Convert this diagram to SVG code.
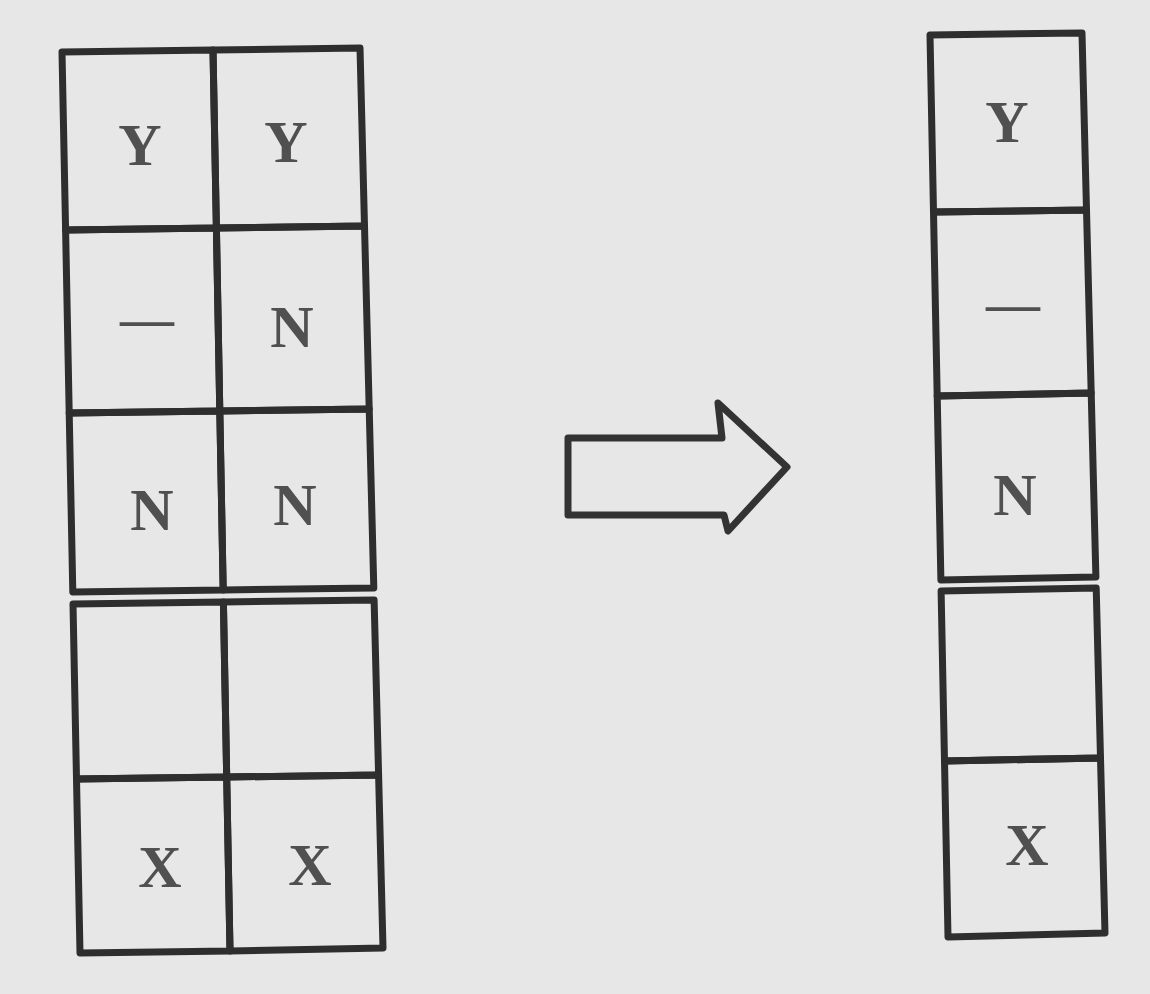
<svg xmlns="http://www.w3.org/2000/svg" width="1150" height="994" viewBox="0 0 1150 994">
<style>
.cell{fill:none;stroke:#2e2e2e;stroke-width:7;stroke-linejoin:round}
.lbl{font-family:"Liberation Serif","Times New Roman",serif;font-size:60px;font-weight:bold;fill:#505050;text-anchor:middle}
.dash{font-family:"Liberation Serif","Times New Roman",serif;font-size:54px;font-weight:bold;fill:#505050;text-anchor:middle}
.arrow{fill:none;stroke:#333;stroke-width:7;stroke-linejoin:round}
</style>
<rect x="0" y="0" width="1150" height="994" fill="#e7e7e7"/>
<g id="left-grid">
<g id="L-r1c1"><polygon class="cell" points="62,52 213,50 216.4,228 65.6,230"/><text class="lbl" x="140" y="165">Y</text></g>
<g id="L-r1c2"><polygon class="cell" points="213,50 360,48 364.5,226 216.4,228"/><text class="lbl" x="286" y="162">Y</text></g>
<g id="L-r2c1"><polygon class="cell" points="65.6,230 216.4,228 219.8,411 69.2,413"/><text class="dash" x="147" y="337">—</text></g>
<g id="L-r2c2"><polygon class="cell" points="216.4,228 364.5,226 369.2,409 219.8,411"/><text class="lbl" x="292" y="347">N</text></g>
<g id="L-r3c1"><polygon class="cell" points="69.2,413 219.8,411 223.2,590 72.8,592"/><text class="lbl" x="152" y="530">N</text></g>
<g id="L-r3c2"><polygon class="cell" points="219.8,411 369.2,409 373.8,588 223.2,590"/><text class="lbl" x="295" y="525">N</text></g>
<g id="L-r4c1"><polygon class="cell" points="73,604 223.4,602 226.7,777 76.5,779"/></g>
<g id="L-r4c2"><polygon class="cell" points="223.4,602 374.1,600 378.6,775 226.7,777"/></g>
<g id="L-r5c1"><polygon class="cell" points="76.5,779 226.7,777 230,951 80,953"/><text class="lbl" x="160" y="887">X</text></g>
<g id="L-r5c2"><polygon class="cell" points="226.7,777 378.6,775 383,948 230,951"/><text class="lbl" x="310" y="885">X</text></g>
</g>
<g id="right-column">
<g id="R-r1"><polygon class="cell" points="930,35 1082,33 1086.5,210 933.5,212"/><text class="lbl" x="1007" y="142">Y</text></g>
<g id="R-r2"><polygon class="cell" points="933.5,212 1086.5,210 1091.2,393 937.2,396"/><text class="dash" x="1013" y="322">—</text></g>
<g id="R-r3"><polygon class="cell" points="937.2,396 1091.2,393 1095.9,577 940.9,580"/><text class="lbl" x="1015" y="515">N</text></g>
<g id="R-r4"><polygon class="cell" points="941.1,591 1096.2,588 1100.5,758 944.5,761"/></g>
<g id="R-r5"><polygon class="cell" points="944.5,761 1100.5,758 1105,933 948,937"/><text class="lbl" x="1027" y="865">X</text></g>
</g>
<g id="connectors">
<polygon class="arrow" points="568,438 722,438 718,403 787,467 728,531 724,515 568,515"/>
</g>
</svg>
